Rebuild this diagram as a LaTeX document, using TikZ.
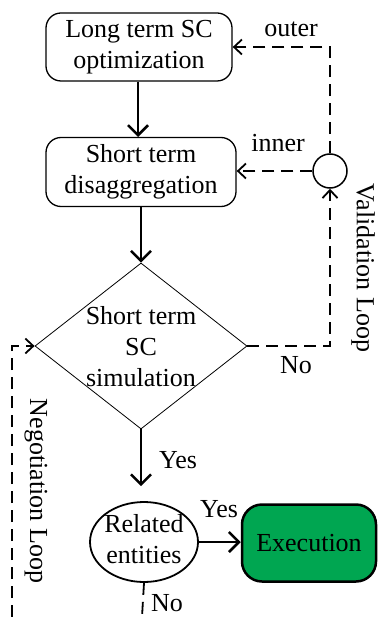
\documentclass[tikz,border=0pt]{standalone}
\usepackage{fontspec}
\setmainfont{Liberation Serif}
\usetikzlibrary{arrows.meta,shapes.geometric}
\definecolor{exgreen}{RGB}{0,166,81}
\begin{document}
\begin{tikzpicture}[x=1pt,y=-1pt,
  txt/.style={font=\fontsize{26}{31}\selectfont, align=center, inner sep=0pt},
  boxr/.style={draw, line width=1.3pt, rounded corners=15pt, inner sep=0pt, txt},
  solidarrow/.style={line width=2.5pt, -{Straight Barb[length=10pt,width=20pt]}},
  dasharrow/.style={line width=1.8pt, dash pattern=on 12pt off 7pt, -{Straight Barb[length=8pt,width=15pt]}},
  dashline/.style={line width=1.8pt, dash pattern=on 12pt off 7pt}]
\useasboundingbox (0,0) rectangle (377,617);
\node[boxr, minimum width=186pt, minimum height=68pt] (b1) at (139,47) {Long term SC\\optimization};
\node[boxr, minimum width=190pt, minimum height=69pt] (b2) at (141,172) {Short term\\disaggregation};
\node[diamond, draw, line width=0.8pt, minimum width=212pt, minimum height=166pt, inner sep=0pt] (sim) at (141,346) {};
\node[txt] (simtxt) at (141,347) {Short term\\SC\\simulation};
\node[ellipse, draw, line width=1.8pt, minimum width=108pt, minimum height=80pt, inner sep=0pt] (rel) at (144,542) {};
\node[txt] (reltxt) at (144,539) {Related\\entities};
\node[draw, line width=2.5pt, fill=exgreen, rounded corners=20pt, minimum width=134pt, minimum height=77pt, txt] (exe) at (309,543) {Execution};
\node[circle, draw, line width=1.5pt, minimum size=34pt, inner sep=0pt] (vc) at (330,171) {};
\coordinate (nobot) at (142,617);
\coordinate (negbot) at (12,617);

\draw[solidarrow] (b1.south -| 138,0) -- (138,137);
\draw[solidarrow] (b2.south -| sim.north) -- (sim.north);
\draw[solidarrow, shorten >=15pt] (sim.south) -- (sim.south |- rel.north);
\draw[solidarrow] (rel.east) -- (rel.east -| exe.west);

\draw[dasharrow] (vc.north) |- (b1.east);
\draw[dasharrow] (vc.west) -- (b2.east |- vc.west);
\draw[dasharrow] (sim.east) -| (vc.south);
\draw[dashline] (rel.south) -- (nobot);
\draw[dasharrow] (negbot) |- (sim.west);

\node[txt] (louter) at (291,29) {outer};
\node[txt] (linner) at (278,143) {inner};
\node[txt] (lno1) at (296,365) {No};
\node[txt] (lyes1) at (178,460) {Yes};
\node[txt] (lyes2) at (219,509) {Yes};
\node[txt] (lno2) at (167,603) {No};
\node[txt, rotate=-90] (lval) at (363,268) {Validation Loop};
\node[txt, rotate=-90] (lneg) at (36,491) {Negotiation Loop};
\end{tikzpicture}
\end{document}
